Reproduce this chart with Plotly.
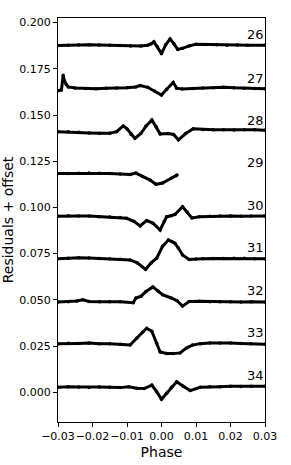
import plotly.graph_objects as go

# ---- data (phase, residual + offset) ----
phase_26 = [-0.030, -0.027, -0.024, -0.021, -0.018, -0.015, -0.012, -0.009, -0.006, -0.004, -0.003, -0.0022, -0.0012, 0.0000, 0.0012, 0.0025, 0.0036, 0.0047, 0.0061, 0.008, 0.010, 0.013, 0.016, 0.019, 0.022, 0.025, 0.030]
resid_26 = [0.1876, 0.1878, 0.1879, 0.1880, 0.1879, 0.1878, 0.1876, 0.1874, 0.1873, 0.1878, 0.1885, 0.1897, 0.1870, 0.1832, 0.1880, 0.1912, 0.1885, 0.1855, 0.1861, 0.1874, 0.1883, 0.1881, 0.1880, 0.1878, 0.1879, 0.1878, 0.1877]

phase_27 = [-0.030, -0.029, -0.0285, -0.0282, -0.0276, -0.027, -0.025, -0.022, -0.019, -0.016, -0.013, -0.010, -0.0075, -0.0062, -0.004, -0.002, 0.000, 0.0015, 0.0034, 0.0044, 0.006, 0.009, 0.012, 0.015, 0.018, 0.021, 0.024, 0.027, 0.030]
resid_27 = [0.1632, 0.1636, 0.1715, 0.1688, 0.1665, 0.1652, 0.1646, 0.1643, 0.1642, 0.1645, 0.1646, 0.1648, 0.1652, 0.1660, 0.1650, 0.1630, 0.1608, 0.1640, 0.1676, 0.1645, 0.1641, 0.1643, 0.1646, 0.1648, 0.1650, 0.1647, 0.1645, 0.1644, 0.1642]

phase_28 = [-0.030, -0.027, -0.024, -0.021, -0.018, -0.015, -0.013, -0.0111, -0.0100, -0.0088, -0.0077, -0.0060, -0.0045, -0.0028, -0.0015, -0.0004, 0.002, 0.0035, 0.0049, 0.0070, 0.0092, 0.012, 0.015, 0.018, 0.021, 0.024, 0.027, 0.030]
resid_28 = [0.1410, 0.1409, 0.1407, 0.1403, 0.1401, 0.1402, 0.1410, 0.1441, 0.1425, 0.1395, 0.1374, 0.1400, 0.1440, 0.1473, 0.1435, 0.1398, 0.1400, 0.1395, 0.1366, 0.1400, 0.1426, 0.1422, 0.1420, 0.1421, 0.1419, 0.1420, 0.1420, 0.1418]

phase_29 = [-0.030, -0.027, -0.024, -0.021, -0.018, -0.015, -0.012, -0.0091, -0.0074, -0.0055, -0.0033, -0.0016, 0.0003, 0.0028, 0.0042, 0.0045]
resid_29 = [0.1184, 0.1184, 0.1185, 0.1186, 0.1185, 0.1184, 0.1181, 0.1178, 0.1186, 0.1167, 0.1148, 0.1125, 0.1132, 0.1158, 0.1172, 0.1175]

phase_30 = [-0.030, -0.027, -0.024, -0.021, -0.018, -0.015, -0.012, -0.0101, -0.008, -0.0062, -0.0043, -0.0025, -0.0004, 0.0008, 0.0015, 0.0028, 0.0039, 0.0061, 0.0075, 0.0088, 0.011, 0.014, 0.017, 0.020, 0.023, 0.026, 0.030]
resid_30 = [0.0952, 0.0955, 0.0954, 0.0953, 0.0950, 0.0948, 0.0946, 0.0941, 0.0925, 0.0900, 0.0929, 0.0915, 0.0878, 0.0925, 0.0950, 0.0955, 0.0962, 0.1004, 0.0975, 0.0943, 0.0950, 0.0952, 0.0953, 0.0953, 0.0952, 0.0954, 0.0954]

phase_31 = [-0.030, -0.027, -0.024, -0.021, -0.018, -0.015, -0.012, -0.0091, -0.0070, -0.0046, -0.0030, -0.0014, 0.0003, 0.0020, 0.0030, 0.0039, 0.0049, 0.0061, 0.0080, 0.010, 0.012, 0.015, 0.018, 0.021, 0.024, 0.027, 0.030]
resid_31 = [0.0722, 0.0725, 0.0728, 0.0726, 0.0724, 0.0722, 0.0720, 0.0716, 0.0700, 0.0665, 0.0700, 0.0725, 0.0790, 0.0824, 0.0815, 0.0806, 0.0780, 0.0743, 0.0718, 0.0721, 0.0722, 0.0724, 0.0724, 0.0725, 0.0725, 0.0723, 0.0722]

phase_32 = [-0.030, -0.027, -0.0245, -0.0228, -0.021, -0.018, -0.015, -0.012, -0.0082, -0.0074, -0.0059, -0.0045, -0.0025, -0.0010, 0.0003, 0.0028, 0.0045, 0.0061, 0.0080, 0.011, 0.014, 0.017, 0.020, 0.023, 0.026, 0.030]
resid_32 = [0.0488, 0.0490, 0.0494, 0.0500, 0.0491, 0.0490, 0.0490, 0.0489, 0.0484, 0.0510, 0.0520, 0.0545, 0.0570, 0.0548, 0.0528, 0.0510, 0.0495, 0.0466, 0.0491, 0.0492, 0.0490, 0.0490, 0.0489, 0.0488, 0.0489, 0.0488]

phase_33 = [-0.030, -0.027, -0.024, -0.021, -0.018, -0.015, -0.012, -0.0091, -0.0072, -0.0055, -0.0043, -0.0028, -0.0014, -0.0004, 0.0015, 0.0035, 0.0054, 0.0073, 0.0090, 0.0112, 0.014, 0.017, 0.020, 0.023, 0.026, 0.030]
resid_33 = [0.0262, 0.0265, 0.0264, 0.0266, 0.0262, 0.0263, 0.0260, 0.0256, 0.0292, 0.0325, 0.0346, 0.0330, 0.0265, 0.0218, 0.0210, 0.0209, 0.0213, 0.0240, 0.0255, 0.0263, 0.0266, 0.0267, 0.0266, 0.0264, 0.0262, 0.0260]

phase_34 = [-0.030, -0.027, -0.024, -0.021, -0.018, -0.015, -0.012, -0.0095, -0.0072, -0.0050, -0.0028, -0.0014, 0.0000, 0.0015, 0.0029, 0.0044, 0.0063, 0.0083, 0.0112, 0.014, 0.017, 0.020, 0.023, 0.026, 0.030]
resid_34 = [0.0027, 0.0030, 0.0028, 0.0026, 0.0028, 0.0027, 0.0025, 0.0030, 0.0022, 0.0020, 0.0039, 0.0003, -0.0038, -0.0005, 0.0027, 0.0057, 0.0033, 0.0009, 0.0027, 0.0030, 0.0030, 0.0032, 0.0031, 0.0033, 0.0033]

curve_labels = ["26", "27", "28", "29", "30", "31", "32", "33", "34"]
label_y = [0.1935, 0.1699, 0.1473, 0.1242, 0.1013, 0.0784, 0.0553, 0.0322, 0.0088]
label_x = 0.0272

x_ticks = [-0.03, -0.02, -0.01, 0.00, 0.01, 0.02, 0.03]
x_tick_text = ["\u22120.03", "\u22120.02", "\u22120.01", "0.00", "0.01", "0.02", "0.03"]
y_ticks = [0.000, 0.025, 0.050, 0.075, 0.100, 0.125, 0.150, 0.175, 0.200]
y_tick_text = ["0.000", "0.025", "0.050", "0.075", "0.100", "0.125", "0.150", "0.175", "0.200"]

series = [
    (phase_26, resid_26), (phase_27, resid_27), (phase_28, resid_28),
    (phase_29, resid_29), (phase_30, resid_30), (phase_31, resid_31),
    (phase_32, resid_32), (phase_33, resid_33), (phase_34, resid_34),
]

fig = go.Figure()
for ph, rs in series:
    fig.add_trace(go.Scatter(
        x=ph, y=rs, mode="lines+markers",
        line=dict(color="black", width=3.0),
        marker=dict(color="black", size=3.5),
        showlegend=False, hoverinfo="skip",
    ))

for lab, ly in zip(curve_labels, label_y):
    fig.add_annotation(x=label_x, y=ly, text=lab, showarrow=False,
                       xanchor="center", yanchor="middle",
                       font=dict(size=13, color="black", family="DejaVu Sans"))

axis_common = dict(
    showline=True, linecolor="black", linewidth=1, mirror=True,
    ticks="outside", ticklen=4, tickwidth=1, tickcolor="black",
    showgrid=False, zeroline=False, tickangle=0, automargin=False,
    tickfont=dict(size=11, color="black", family="DejaVu Sans"),
)

fig.update_xaxes(range=[-0.03, 0.03], tickvals=x_ticks, ticktext=x_tick_text,
                 title=dict(text="Phase", font=dict(size=14, color="black", family="DejaVu Sans"), standoff=4),
                 **axis_common)
fig.update_yaxes(range=[-0.0161, 0.2025], tickvals=y_ticks, ticktext=y_tick_text,
                 title=dict(text="Residuals + offset", font=dict(size=14, color="black", family="DejaVu Sans"), standoff=5),
                 **axis_common)

fig.update_layout(
    width=291, height=465,
    margin=dict(l=58, r=26, t=18, b=43),
    paper_bgcolor="white", plot_bgcolor="white",
    font=dict(family="DejaVu Sans", color="black"),
)

fig.write_html("out.html", config={"displayModeBar": False},
               post_script="document.body.style.margin='0';")
